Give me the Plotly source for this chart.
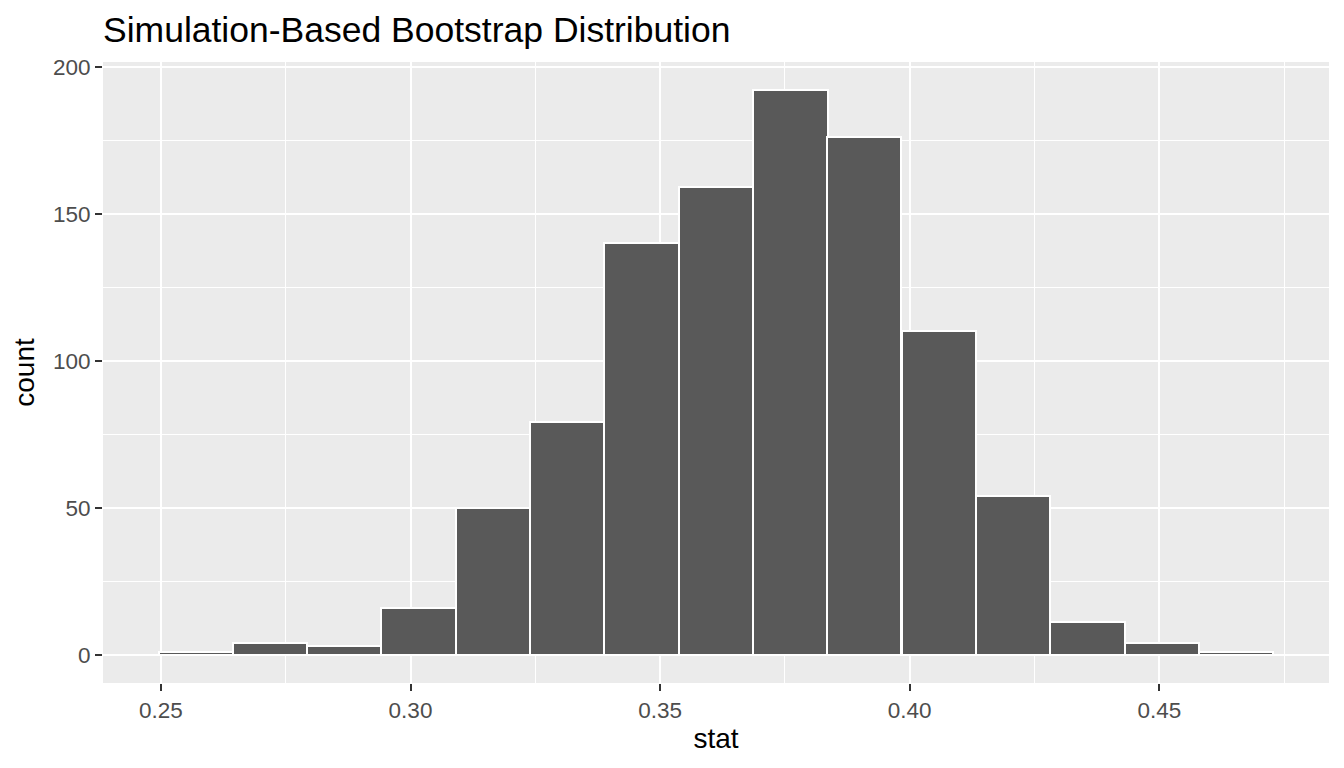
import plotly.graph_objects as go

# bootstrap histogram bins (centre of each bin) and counts
bin_centers = [0.2570, 0.2719, 0.2868, 0.3016, 0.3165, 0.3314, 0.3463, 0.3612,
               0.3761, 0.3909, 0.4058, 0.4207, 0.4356, 0.4505, 0.4654]
counts = [1, 4, 3, 16, 50, 79, 140, 159, 192, 176, 110, 54, 11, 4, 1]
bin_width = 0.01488

x_ticks = [0.25, 0.30, 0.35, 0.40, 0.45]
x_tick_labels = ["0.25", "0.30", "0.35", "0.40", "0.45"]
y_ticks = [0, 50, 100, 150, 200]

fig = go.Figure()
fig.add_bar(x=bin_centers, y=counts, width=bin_width,
            marker=dict(color="#595959", line=dict(color="white", width=2)),
            showlegend=False)

font = "Liberation Sans, Arial, sans-serif"
fig.update_layout(
    width=1344, height=768,
    margin=dict(l=103, r=15, t=62, b=85),
    paper_bgcolor="white", plot_bgcolor="#EBEBEB",
    font=dict(family=font),
    bargap=0,
    title=dict(text="Simulation-Based Bootstrap Distribution",
               font=dict(size=35.5, color="black", family=font),
               xref="paper", x=0, xanchor="left",
               yref="container", y=1 - 30 / 768, yanchor="middle"),
)
fig.update_xaxes(
    range=[0.2384, 0.4840],
    tickvals=x_ticks, ticktext=x_tick_labels,
    tickfont=dict(size=22.5, color="#4D4D4D"),
    ticks="outside", ticklen=7, tickwidth=2, tickcolor="#333333",
    showgrid=True, gridcolor="white", gridwidth=2,
    minor=dict(dtick=0.025, tick0=0.225, showgrid=True, gridcolor="white", gridwidth=1, ticks=""),
    zeroline=False, showline=False,
    title=dict(text="stat", font=dict(size=28, color="black"), standoff=6),
)
fig.update_yaxes(
    range=[-9.6, 201.6],
    tickvals=y_ticks,
    tickfont=dict(size=22.5, color="#4D4D4D"),
    ticks="outside", ticklen=7, tickwidth=2, tickcolor="#333333",
    showgrid=True, gridcolor="white", gridwidth=2,
    minor=dict(dtick=25, tick0=25, showgrid=True, gridcolor="white", gridwidth=1, ticks=""),
    zeroline=False, showline=False,
    title=dict(text="count", font=dict(size=28, color="black"), standoff=10),
)

fig.write_html("out.html", config={"displayModeBar": False},
               post_script="document.body.style.margin='0';")
